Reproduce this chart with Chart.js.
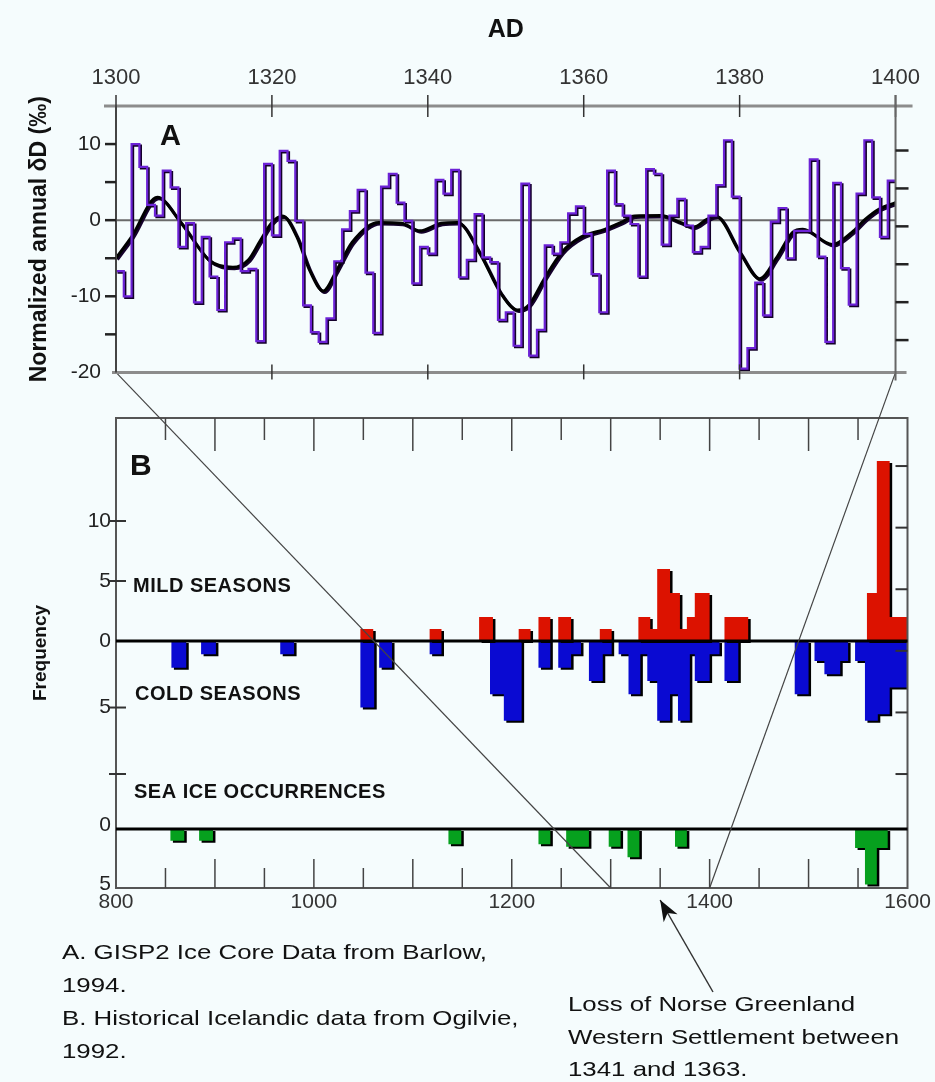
<!DOCTYPE html>
<html>
<head>
<meta charset="utf-8">
<script src="https://cdn.jsdelivr.net/npm/chart.js@4.4.1/dist/chart.umd.min.js"></script>
<style>
  body { margin: 0; background: #f5fcfd; }
  #wrap { position: relative; width: 935px; height: 1082px; overflow: hidden; }
  canvas { position: absolute; left: 0; top: 0; }
  .nota { position: absolute; font: 21px 'Liberation Sans', Arial, sans-serif; color: #111; white-space: nowrap; transform: scaleX(1.23); transform-origin: 0 0; }
</style>
</head>
<body>
<div id="wrap">
  <canvas id="chartB" width="935" height="1082"></canvas>
  <canvas id="chartA" width="935" height="400"></canvas>
  <div class="nota" style="left:62px;top:935px;line-height:33px">A. GISP2 Ice Core Data from Barlow,<br>1994.<br>B. Historical Icelandic data from Ogilvie,<br>1992.</div>
  <div class="nota" style="left:568px;top:988px;line-height:32.5px">Loss of Norse Greenland<br>Western Settlement between<br>1341 and 1363.</div>
</div>
<script>
// --- Panel A: GISP2 dD anual (escalones) ---
const yearsA = [
  1300,1301,1302,1303,1304,1305,1306,1307,1308,1309,
  1310,1311,1312,1313,1314,1315,1316,1317,1318,1319,
  1320,1321,1322,1323,1324,1325,1326,1327,1328,1329,
  1330,1331,1332,1333,1334,1335,1336,1337,1338,1339,
  1340,1341,1342,1343,1344,1345,1346,1347,1348,1349,
  1350,1351,1352,1353,1354,1355,1356,1357,1358,1359,
  1360,1361,1362,1363,1364,1365,1366,1367,1368,1369,
  1370,1371,1372,1373,1374,1375,1376,1377,1378,1379,
  1380,1381,1382,1383,1384,1385,1386,1387,1388,1389,
  1390,1391,1392,1393,1394,1395,1396,1397,1398,1399
];
const deltaD = [
  -6.7,-10.0,10.0,7.0,2.0,0.6,6.5,4.3,-3.5,-0.4,
  -10.8,-2.2,-7.4,-11.8,-2.9,-2.4,-6.7,-6.4,-15.9,7.4,
  -2.0,9.1,7.8,-0.1,-11.2,-14.7,-16.0,-12.9,-5.4,-1.2,
  1.2,4.0,-6.9,-14.8,4.4,6.1,2.3,-0.1,-8.3,-3.5,
  -4.4,5.3,3.5,6.6,-7.5,-5.2,0.8,-4.9,-5.5,-13.1,
  -12.1,-16.5,4.8,-17.8,-14.4,-3.3,-4.4,-2.9,0.9,1.8,
  -1.8,-7.1,-12.1,6.5,2.1,0.6,-0.5,-7.4,6.7,6.1,
  -3.2,0.6,2.8,-0.7,-4.2,-3.5,0.6,4.6,10.5,3.1,
  -19.5,-16.8,-8.2,-12.5,-0.2,1.6,-5.0,-1.4,-1.4,8.0,
  -4.8,-16.0,4.9,-6.3,-11.1,3.5,10.5,3.0,-2.2,5.2
];
const endYearA = 1400;

// curva suavizada
const smoothYears = [1300,1302,1305.3,1308.3,1312,1315,1317,1318.5,1320,1321.4,1323.2,1324.8,1326.6,1328.3,1330.3,
  1333.7,1336.6,1339,1341.7,1343.8,1346.8,1349.3,1351.5,1353,1355,1357.2,1359.7,1362.7,1364.8,1366.5,1369.9,
  1372.4,1374.1,1375.8,1377,1380,1382.6,1384.7,1386.8,1388.1,1391.9,1394.4,1396.1,1397.8,1400];
const smoothD = [-5.0,-2.2,3.0,-0.3,-5.3,-6.2,-5.2,-2.7,-0.3,0.55,-2.2,-6.5,-9.3,-6.6,-2.9,
  -0.3,-0.4,-1.4,-0.4,-0.3,-4.6,-9.5,-11.8,-11.1,-7.6,-4.2,-2.2,-1.2,-0.3,0.55,0.6,
  -0.3,-0.9,0.1,0.5,-4.2,-7.7,-5.0,-1.6,-1.2,-3.2,-1.6,0.1,1.4,2.3];

const ticksA = [-20, -15, -10, -5, 0, 5, 10, 15];
const ticksARight = [-15, -10, -5, 0, 5, 10];

// --- Panel B: datos historicos de Islandia ---
const mildFrom = [1047,1117,1167,1207,1227,1247,1289,1328,1340,1347,1360,1370,1377,1385,1415,1559,1569,1582];
const mildTo   = [1060,1129,1181,1219,1239,1260,1301,1340,1347,1360,1370,1377,1385,1400,1439,1569,1582,1600];
const mildFreq = [1,1,2,1,2,2,1,2,1,6,4,1,2,4,2,4,15,2];

const coldFrom = [856,886,966,1047,1066,1117,1178,1192,1227,1247,1260,1278,1292,1308,1318,1330,1337,1347,1360,1368,1380,1385,1400,1415,1486,1506,1516,1532,1547,1557,1570,1582];
const coldTo   = [871,901,980,1061,1079,1129,1192,1210,1239,1260,1270,1292,1301,1318,1330,1337,1347,1360,1368,1380,1385,1400,1410,1429,1500,1516,1532,1540,1557,1570,1582,1600];
const coldFreq = [2,1,1,5,2,1,4,6,2,2,1,3,1,1,4,1,3,6,4,6,1,3,1,3,4,1.5,2.5,1.5,1.5,6,5.5,3.5];

const iceFrom = [855,884,1136,1227,1255,1298,1317,1365,1547,1557,1569];
const iceTo   = [869,898,1149,1239,1278,1310,1329,1377,1557,1569,1580];
const iceFreq = [1,1,1.3,1.3,1.5,1.5,2.4,1.5,1.6,4.7,1.6];

const mildTicks = [0, 5, 10];
const coldTicks = [5, 10];
const iceTicks = [0, 5];
const rightTicksB = [0, 1, 2, 3, 4, 5];

Chart.defaults.font.family = "'Liberation Sans', Arial, sans-serif";
Chart.defaults.color = '#222';

// pasa rangos (desde, hasta, valor) a puntos de una linea escalonada
function escalones(desde, hasta, valores, inicio, fin) {
  const pts = [];
  let ultimo = inicio;
  desde.forEach((d, i) => {
    if (d > ultimo || pts.length === 0) pts.push({ x: ultimo, y: 0 });
    pts.push({ x: d, y: valores[i] });
    ultimo = hasta[i];
  });
  pts.push({ x: ultimo, y: 0 });
  if (ultimo < fin) pts.push({ x: fin, y: 0 });
  return pts;
}

// sombra negra bajo las series
const sombra = {
  id: 'sombra',
  beforeDatasetsDraw(chart, args, opts) {
    const ctx = chart.ctx;
    ctx.save();
    ctx.shadowColor = opts.color;
    ctx.shadowOffsetX = opts.dx;
    ctx.shadowOffsetY = opts.dy;
    ctx.shadowBlur = 0;
  },
  afterDatasetsDraw(chart) {
    chart.ctx.restore();
  }
};

function linea(ctx, x1, y1, x2, y2) {
  ctx.beginPath();
  ctx.moveTo(x1, y1);
  ctx.lineTo(x2, y2);
  ctx.stroke();
}

const marcoA = {
  id: 'marcoA',
  beforeDatasetsDraw(chart) {
    const { ctx, chartArea: a, scales } = chart;
    ctx.save();
    ctx.strokeStyle = '#6a6a6a';
    ctx.lineWidth = 2;
    const y0 = scales.y.getPixelForValue(0);
    linea(ctx, a.left, y0, a.right, y0);
    ctx.restore();
  },
  afterDraw(chart) {
    const { ctx, chartArea: a, scales } = chart;
    ctx.save();
    // bordes superior e inferior
    ctx.strokeStyle = '#8c8c8c';
    ctx.lineWidth = 3;
    linea(ctx, a.left - 12, a.top, a.right + 17, a.top);
    linea(ctx, a.left - 4, a.bottom, a.right + 11, a.bottom);
    ctx.strokeStyle = '#333';
    ctx.lineWidth = 1.5;
    scales.x.ticks.forEach(t => {
      const px = scales.x.getPixelForValue(t.value);
      linea(ctx, px, a.top - 11, px, a.top + 11);
      if (t.value > scales.x.min && t.value < scales.x.max) linea(ctx, px, a.bottom - 8, px, a.bottom + 7);
    });
    // ejes laterales
    ctx.strokeStyle = '#444';
    ctx.lineWidth = 2;
    linea(ctx, a.left, a.top, a.left, a.bottom);
    ctx.strokeStyle = '#666';
    linea(ctx, a.right, a.top - 11, a.right, a.bottom + 8);
    ctx.strokeStyle = '#222';
    ctx.lineWidth = 2.5;
    scales.y.ticks.forEach(t => {
      if (t.value <= scales.y.min || t.value >= scales.y.max) return;
      const py = scales.y.getPixelForValue(t.value);
      linea(ctx, a.left - 11, py, a.left, py);
    });
    scales.yR.ticks.forEach(t => {
      const py = scales.yR.getPixelForValue(t.value);
      linea(ctx, a.right, py, a.right + 13, py);
    });
    ctx.fillStyle = '#111';
    ctx.font = "bold 29px 'Liberation Sans', Arial, sans-serif";
    ctx.textBaseline = 'middle';
    ctx.fillText('A', a.left + 44, a.top + 31);
    ctx.restore();
  }
};

const chartA = new Chart(document.getElementById('chartA'), {
  type: 'line',
  data: {
    datasets: [
      {
        label: 'dD anual',
        data: yearsA.map((yr, i) => ({ x: yr, y: deltaD[i] })).concat([{ x: endYearA, y: deltaD[deltaD.length - 1] }]),
        stepped: true,
        borderColor: '#6c22d6',
        borderWidth: 2.2,
        pointRadius: 0,
        fill: false
      },
      {
        label: 'suavizado',
        data: smoothYears.map((yr, i) => ({ x: yr, y: smoothD[i] })),
        borderColor: '#000',
        borderWidth: 3,
        pointRadius: 0,
        cubicInterpolationMode: 'monotone',
        fill: false
      }
    ]
  },
  options: {
    responsive: false,
    animation: false,
    devicePixelRatio: 1,
    layout: { padding: { top: 0, bottom: 20, left: 0, right: 0 } },
    plugins: {
      legend: { display: false },
      tooltip: { enabled: false },
      sombra: { color: '#14002a', dx: 1.5, dy: 1.5 }
    },
    scales: {
      x: {
        type: 'linear',
        position: 'top',
        min: 1300,
        max: endYearA,
        ticks: { stepSize: 20, autoSkip: false, maxRotation: 0, callback: v => String(v), font: { size: 22 }, color: '#333', padding: 15 },
        grid: { display: false, drawTicks: false },
        border: { display: false },
        title: { display: true, text: 'AD', font: { size: 25, weight: 'bold' }, color: '#111', padding: { top: 15, bottom: 0 } },
        afterFit: s => { s.height = 106; }
      },
      y: {
        position: 'left',
        min: -20,
        max: 15,
        afterBuildTicks: s => { s.ticks = ticksA.map(v => ({ value: v })); },
        ticks: { callback: v => (v % 10 === 0 && v !== 15 ? String(v) : ''), font: { size: 21 }, color: '#222', padding: 15 },
        grid: { display: false, drawTicks: false },
        border: { display: false },
        title: { display: true, text: 'Normalized annual δD (‰)', font: { size: 23, weight: 'bold' }, color: '#111', padding: { top: 26, bottom: 0 } },
        afterFit: s => { s.width = 116; }
      },
      yR: {
        position: 'right',
        min: -19.26,
        max: 15.87,
        afterBuildTicks: s => { s.ticks = ticksARight.map(v => ({ value: v })); },
        ticks: { display: false },
        grid: { display: false, drawTicks: false },
        border: { display: false },
        afterFit: s => { s.width = 31; }
      }
    }
  },
  plugins: [marcoA, sombra]
});

const marcoB = {
  id: 'marcoB',
  afterDraw(chart) {
    const { ctx, chartArea: a, scales } = chart;
    const x = scales.x;
    ctx.save();
    // marco
    ctx.strokeStyle = '#555';
    ctx.lineWidth = 2;
    ctx.strokeRect(a.left, a.top, a.right - a.left, a.bottom - a.top);
    // marcas arriba y abajo
    ctx.strokeStyle = '#444';
    ctx.lineWidth = 1.5;
    x.ticks.forEach(t => {
      if (t.value <= x.min || t.value >= x.max) return;
      const px = x.getPixelForValue(t.value);
      const largo = t.value % 100 === 0;
      linea(ctx, px, a.top, px, a.top + (largo ? 33 : 22));
      linea(ctx, px, a.bottom, px, a.bottom - (largo ? 29 : 20));
    });
    // marcas izquierda
    ctx.strokeStyle = '#333';
    ctx.lineWidth = 2;
    scales.yMild.ticks.forEach(t => {
      if (t.value === 0) return;
      const py = scales.yMild.getPixelForValue(t.value);
      linea(ctx, a.left - 7, py, a.left + 10, py);
    });
    scales.yCold.ticks.forEach(t => {
      const py = scales.yCold.getPixelForValue(t.value);
      linea(ctx, a.left - 7, py, a.left + 10, py);
    });
    // marcas derecha
    scales.yR.ticks.forEach(t => {
      const py = scales.yR.getPixelForValue(t.value);
      linea(ctx, a.right - 12, py, a.right, py);
    });
    // lineas de cero
    ctx.strokeStyle = '#000';
    ctx.lineWidth = 3;
    const y0 = scales.yMild.getPixelForValue(0);
    linea(ctx, a.left, y0, a.right, y0);
    const yi = scales.ySea.getPixelForValue(0);
    linea(ctx, a.left, yi, a.right, yi);
    // textos
    ctx.fillStyle = '#111';
    ctx.textBaseline = 'middle';
    ctx.font = "bold 30px 'Liberation Sans', Arial, sans-serif";
    ctx.fillText('B', a.left + 14, a.top + 49);
    ctx.font = "bold 20px 'Liberation Sans', Arial, sans-serif";
    if ('letterSpacing' in ctx) ctx.letterSpacing = '0.5px';
    ctx.fillText('MILD SEASONS', a.left + 17, y0 - 55);
    ctx.fillText('COLD SEASONS', a.left + 19, y0 + 53);
    ctx.fillText('SEA ICE OCCURRENCES', a.left + 18, yi - 37);
    if ('letterSpacing' in ctx) ctx.letterSpacing = '0px';
    // lineas que unen con el panel A
    const xa = chartA.scales.x;
    const ya = chartA.chartArea.bottom;
    ctx.strokeStyle = '#444';
    ctx.lineWidth = 1.2;
    linea(ctx, xa.getPixelForValue(xa.min), ya, x.getPixelForValue(xa.min), a.bottom);
    linea(ctx, xa.getPixelForValue(xa.max), ya, x.getPixelForValue(xa.max), a.bottom);
    // flecha
    const tipX = x.getPixelForValue(1350), tipY = a.bottom + 12;
    const tailX = 713, tailY = 992;
    ctx.strokeStyle = '#333';
    ctx.lineWidth = 1.5;
    linea(ctx, tailX, tailY, tipX, tipY);
    const dx = tipX - tailX, dy = tipY - tailY, len = Math.hypot(dx, dy);
    const ux = dx / len, uy = dy / len;
    const bx = tipX - ux * 21, by = tipY - uy * 21;
    ctx.fillStyle = '#111';
    ctx.beginPath();
    ctx.moveTo(tipX, tipY);
    ctx.lineTo(bx - uy * 8, by + ux * 8);
    ctx.lineTo(tipX - ux * 15, tipY - uy * 15);
    ctx.lineTo(bx + uy * 8, by - ux * 8);
    ctx.closePath();
    ctx.fill();
    ctx.restore();
  }
};

const serieB = (label, pts, eje, color) => ({
  label: label,
  data: pts,
  yAxisID: eje,
  stepped: true,
  fill: 'origin',
  backgroundColor: color,
  borderColor: 'transparent',
  borderWidth: 1,
  pointRadius: 0
});

const chartB = new Chart(document.getElementById('chartB'), {
  type: 'line',
  data: {
    datasets: [
      serieB('Mild seasons', escalones(mildFrom, mildTo, mildFreq, 800, 1600), 'yMild', '#dc1200'),
      serieB('Cold seasons', escalones(coldFrom, coldTo, coldFreq, 800, 1600), 'yCold', '#0a0ad2'),
      serieB('Sea ice', escalones(iceFrom, iceTo, iceFreq, 800, 1600), 'ySea', '#06a01e')
    ]
  },
  options: {
    responsive: false,
    animation: false,
    devicePixelRatio: 1,
    layout: { padding: { top: 418, bottom: 0, left: 0, right: 0 } },
    plugins: {
      legend: { display: false },
      tooltip: { enabled: false },
      sombra: { color: '#000', dx: 2.5, dy: 2 }
    },
    scales: {
      x: {
        type: 'linear',
        position: 'bottom',
        min: 800,
        max: 1600,
        ticks: { stepSize: 50, autoSkip: false, maxRotation: 0, callback: v => (v % 200 === 0 ? String(v) : ''), font: { size: 21 }, color: '#333', padding: 2 },
        grid: { display: false, drawTicks: false },
        border: { display: false },
        afterFit: s => { s.height = 194; }
      },
      yMild: {
        position: 'left',
        min: -20.58,
        max: 18.58,
        afterBuildTicks: s => { s.ticks = mildTicks.map(v => ({ value: v })); },
        ticks: { callback: v => String(v), font: { size: 21 }, color: '#222', padding: 5 },
        grid: { display: false, drawTicks: false },
        border: { display: false },
        title: { display: true, text: 'Frequency', font: { size: 19, weight: 'bold' }, color: '#111', padding: { top: 29, bottom: 0 } },
        afterFit: s => { s.width = 116; }
      },
      yCold: {
        position: { x: 794.9 },
        reverse: true,
        min: -16.77,
        max: 18.57,
        afterBuildTicks: s => { s.ticks = coldTicks.map(v => ({ value: v })); },
        ticks: { callback: v => (v === 5 ? '5' : ''), font: { size: 21 }, color: '#222', padding: 0 },
        grid: { display: false, drawTicks: false },
        border: { display: false }
      },
      ySea: {
        position: { x: 794.9 },
        reverse: true,
        min: -34.83,
        max: 5,
        afterBuildTicks: s => { s.ticks = iceTicks.map(v => ({ value: v })); },
        ticks: { callback: v => String(v), font: { size: 21 }, color: '#222', padding: 0, labelOffset: -4 },
        grid: { display: false, drawTicks: false },
        border: { display: false }
      },
      yR: {
        position: 'right',
        min: -1.85,
        max: 5.78,
        afterBuildTicks: s => { s.ticks = rightTicksB.map(v => ({ value: v })); },
        ticks: { display: false },
        grid: { display: false, drawTicks: false },
        border: { display: false },
        afterFit: s => { s.width = 27.5; }
      }
    }
  },
  plugins: [sombra, marcoB]
});
</script>
</body>
</html>
